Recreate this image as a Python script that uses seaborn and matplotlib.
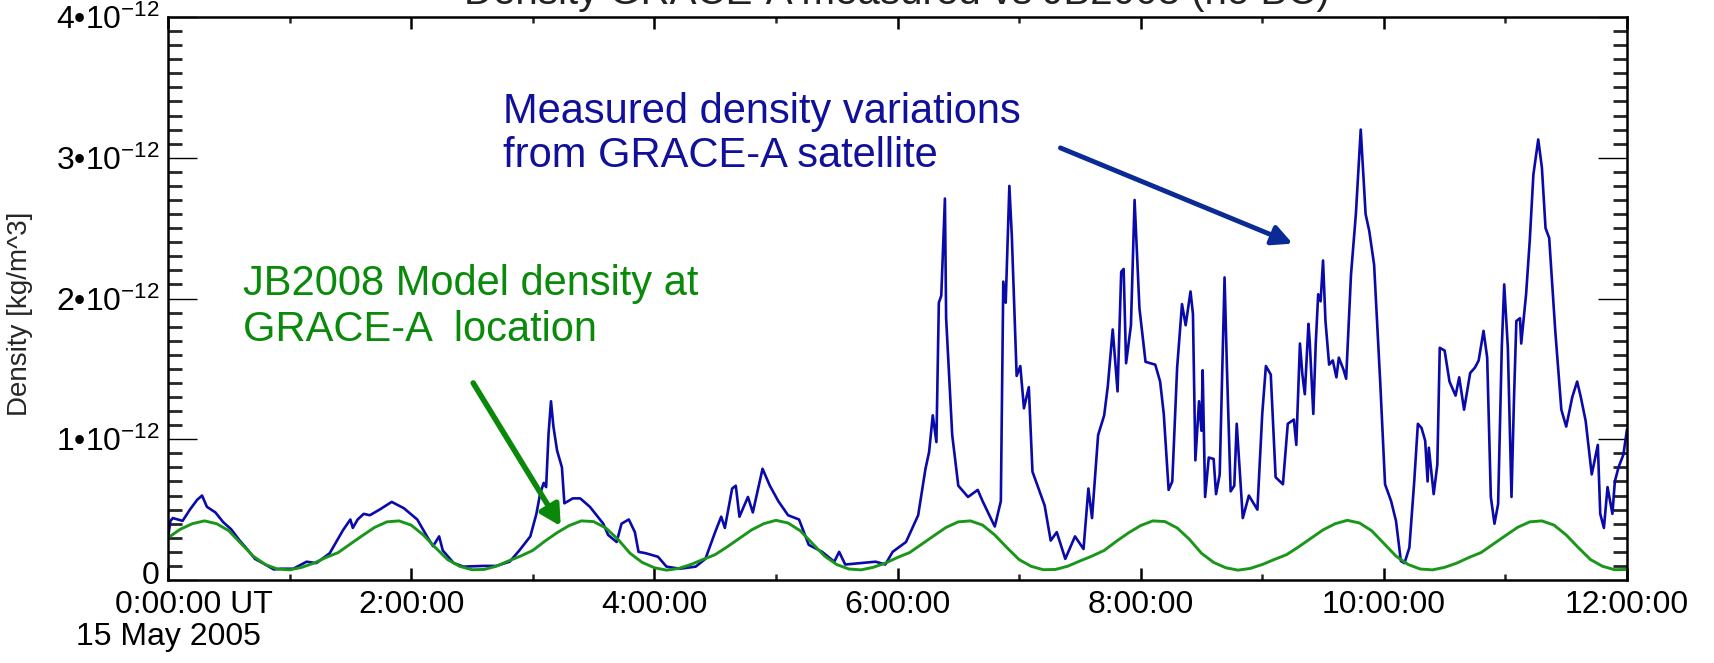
import numpy as np
import pandas as pd
import matplotlib
matplotlib.use("Agg")
import matplotlib.pyplot as plt
import matplotlib.transforms as mtransforms
from matplotlib.ticker import FixedLocator, MultipleLocator
import seaborn as sns

# ---------------- data (density in units of 1e-12 kg/m^3, time in hours UT) ----------------
measured_hours = [
    0.00, 0.02, 0.04, 0.08, 0.12, 0.18, 0.24, 0.28, 0.32, 0.39, 0.455, 0.52, 0.59, 0.66, 0.715,
    0.78, 0.87, 0.93, 1.03, 1.085, 1.14, 1.22, 1.33, 1.44, 1.50, 1.52, 1.56, 1.61, 1.66, 1.74,
    1.84, 1.94, 2.05, 2.13, 2.18, 2.23, 2.26, 2.35, 2.43, 2.59, 2.70, 2.81, 2.89, 2.98, 3.03,
    3.06, 3.09, 3.11, 3.13, 3.15, 3.17, 3.20, 3.24, 3.26, 3.33, 3.39, 3.47, 3.58, 3.62, 3.69,
    3.73, 3.79, 3.84, 3.87, 3.93, 4.03, 4.10, 4.21, 4.34, 4.42, 4.50, 4.55, 4.58, 4.64, 4.67,
    4.70, 4.77, 4.81, 4.89, 4.95, 5.02, 5.10, 5.19, 5.27, 5.38, 5.48, 5.52, 5.57, 5.70, 5.82,
    5.90, 5.96, 6.07, 6.17, 6.23, 6.26, 6.29, 6.32, 6.34, 6.36, 6.39, 6.40, 6.45, 6.50, 6.58,
    6.66, 6.70, 6.80, 6.85, 6.87, 6.89, 6.92, 6.94, 6.98, 7.01, 7.04, 7.08, 7.11, 7.21, 7.26,
    7.31, 7.38, 7.46, 7.53, 7.57, 7.60, 7.65, 7.70, 7.73, 7.77, 7.81, 7.84, 7.86, 7.88, 7.92,
    7.95, 7.99, 8.04, 8.12, 8.16, 8.19, 8.23, 8.26, 8.30, 8.34, 8.37, 8.41, 8.43, 8.45, 8.48,
    8.50, 8.51, 8.53, 8.56, 8.60, 8.62, 8.65, 8.69, 8.71, 8.74, 8.77, 8.79, 8.84, 8.89, 8.96,
    9.00, 9.03, 9.07, 9.11, 9.17, 9.21, 9.26, 9.28, 9.31, 9.33, 9.35, 9.38, 9.39, 9.42, 9.44,
    9.46, 9.48, 9.50, 9.52, 9.55, 9.58, 9.61, 9.63, 9.67, 9.69, 9.73, 9.77, 9.81, 9.85, 9.88,
    9.92, 9.97, 10.01, 10.06, 10.10, 10.14, 10.17, 10.21, 10.25, 10.28, 10.31, 10.34, 10.36, 10.37, 10.41,
    10.44, 10.46, 10.50, 10.54, 10.59, 10.62, 10.66, 10.71, 10.75, 10.78, 10.82, 10.85, 10.88, 10.91, 10.94,
    10.97, 10.99, 11.02, 11.05, 11.07, 11.09, 11.12, 11.13, 11.17, 11.20, 11.23, 11.27, 11.30, 11.33, 11.36,
    11.41, 11.46, 11.50, 11.55, 11.59, 11.62, 11.66, 11.71, 11.76, 11.78, 11.81, 11.84, 11.88, 11.90, 11.93,
    11.97, 12.00,
]
measured_density = [
    0.30, 0.42, 0.44, 0.43, 0.42, 0.50, 0.57, 0.60, 0.52, 0.48, 0.41, 0.36, 0.28, 0.21, 0.15,
    0.12, 0.075, 0.08, 0.08, 0.105, 0.13, 0.12, 0.19, 0.355, 0.43, 0.37, 0.43, 0.47, 0.46, 0.50,
    0.555, 0.51, 0.43, 0.31, 0.24, 0.31, 0.21, 0.12, 0.095, 0.10, 0.10, 0.13, 0.21, 0.31, 0.47,
    0.61, 0.69, 0.66, 1.04, 1.27, 1.09, 0.92, 0.80, 0.545, 0.58, 0.58, 0.52, 0.40, 0.32, 0.27,
    0.40, 0.43, 0.34, 0.20, 0.19, 0.165, 0.095, 0.08, 0.095, 0.15, 0.34, 0.45, 0.37, 0.65, 0.67,
    0.45, 0.59, 0.48, 0.79, 0.67, 0.56, 0.46, 0.43, 0.25, 0.20, 0.13, 0.20, 0.11, 0.12, 0.13,
    0.11, 0.20, 0.27, 0.46, 0.79, 0.91, 1.17, 0.98, 1.97, 2.02, 2.71, 1.86, 1.03, 0.67, 0.59,
    0.64, 0.56, 0.38, 0.56, 2.12, 1.97, 2.80, 2.45, 1.45, 1.52, 1.22, 1.37, 0.77, 0.53, 0.28,
    0.34, 0.15, 0.31, 0.22, 0.65, 0.44, 1.03, 1.17, 1.38, 1.78, 1.34, 2.19, 2.21, 1.54, 1.81,
    2.70, 1.93, 1.55, 1.53, 1.41, 1.18, 0.64, 0.70, 1.51, 1.96, 1.81, 2.05, 1.89, 0.85, 1.27,
    1.06, 1.49, 0.59, 0.87, 0.86, 0.61, 0.75, 2.15, 1.49, 0.63, 0.67, 1.11, 0.44, 0.60, 0.50,
    1.18, 1.52, 1.46, 0.73, 0.68, 1.11, 1.14, 0.96, 1.68, 1.46, 1.32, 1.82, 1.70, 1.18, 1.68,
    2.03, 1.98, 2.27, 1.84, 1.53, 1.56, 1.44, 1.58, 1.49, 1.43, 2.17, 2.60, 3.20, 2.60, 2.48,
    2.24, 1.41, 0.68, 0.56, 0.42, 0.135, 0.12, 0.23, 0.70, 1.11, 1.08, 0.99, 0.70, 0.94, 0.61,
    0.82, 1.65, 1.63, 1.41, 1.31, 1.44, 1.21, 1.47, 1.51, 1.56, 1.77, 1.58, 0.59, 0.40, 0.54,
    1.65, 2.10, 1.65, 0.59, 1.27, 1.84, 1.86, 1.68, 2.03, 2.41, 2.88, 3.13, 2.93, 2.50, 2.43,
    1.77, 1.21, 1.09, 1.30, 1.41, 1.30, 1.13, 0.75, 0.96, 0.47, 0.37, 0.66, 0.47, 0.70, 0.80,
    0.89, 1.07,
]

model_hours = [i / 10 for i in range(121)]
model_density = [
    0.30, 0.36, 0.40, 0.42, 0.40, 0.35, 0.26, 0.17, 0.11, 0.078,
    0.072, 0.09, 0.12, 0.16, 0.195, 0.256, 0.316, 0.374, 0.413, 0.42,
    0.39, 0.32, 0.23, 0.145, 0.097, 0.073, 0.075, 0.098, 0.135, 0.17,
    0.21, 0.276, 0.336, 0.387, 0.42, 0.415, 0.37, 0.29, 0.19, 0.125,
    0.087, 0.07, 0.082, 0.11, 0.146, 0.18, 0.236, 0.296, 0.356, 0.40,
    0.424, 0.405, 0.35, 0.26, 0.17, 0.11, 0.078, 0.072, 0.09, 0.12,
    0.16, 0.195, 0.255, 0.315, 0.374, 0.413, 0.42, 0.39, 0.32, 0.23,
    0.145, 0.097, 0.073, 0.075, 0.098, 0.135, 0.17, 0.21, 0.275, 0.335,
    0.387, 0.42, 0.415, 0.37, 0.29, 0.19, 0.125, 0.087, 0.07, 0.082,
    0.11, 0.146, 0.18, 0.236, 0.296, 0.356, 0.40, 0.424, 0.405, 0.35,
    0.26, 0.17, 0.11, 0.078, 0.072, 0.09, 0.12, 0.16, 0.195, 0.255,
    0.315, 0.374, 0.413, 0.42, 0.39, 0.32, 0.23, 0.145, 0.097, 0.073,
    0.075,
]

xtick_hours = [0, 2, 4, 6, 8, 10, 12]
xtick_labels = ["0:00:00 UT", "2:00:00", "4:00:00", "6:00:00", "8:00:00", "10:00:00", "12:00:00"]
date_label = "15 May 2005"
ytick_values = [0, 1, 2, 3, 4]
ytick_labels = ["0", "1•10$^{-12}$", "2•10$^{-12}$", "3•10$^{-12}$", "4•10$^{-12}$"]
title_text = "Density GRACE-A measured vs JB2008 (no BC)"
ylabel_text = "Density [kg/m^3]"
measured_note = "Measured density variations\nfrom GRACE-A satellite"
model_note = "JB2008 Model density at\nGRACE-A  location"

# ---------------- style ----------------
sns.set_theme(style="white")
plt.rcParams["font.family"] = ["Liberation Sans", "DejaVu Sans"]
plt.rcParams["mathtext.default"] = "regular"
plt.rcParams["mathtext.fontset"] = "custom"
plt.rcParams["mathtext.rm"] = "Liberation Sans"

BLUE_LINE = "#0A0AAA"
BLUE_TEXT = "#10109A"
BLUE_ARROW = "#0A2A96"
GREEN_LINE = "#1A961A"
GREEN_TEXT = "#0A8A0A"
GREEN_ARROW = "#0A880A"

W, H = 1714, 663
fig = plt.figure(figsize=(W / 100, H / 100), dpi=100)
ax = fig.add_axes([168 / W, 1 - 580 / H, (1627 - 168) / W, (580 - 17) / H])

meas = pd.DataFrame({"hours": measured_hours, "density": measured_density})
model = pd.DataFrame({"hours": model_hours, "density": model_density})

sns.lineplot(data=meas, x="hours", y="density", color=BLUE_LINE, lw=1.9, ax=ax,
             estimator=None, sort=False)
sns.lineplot(data=model, x="hours", y="density", color=GREEN_LINE, lw=2.1, ax=ax,
             estimator=None, sort=False)

ax.set_xlim(0, 12)
ax.set_ylim(0, 4)
ax.set_xlabel("")
ax.set_ylabel(ylabel_text, fontsize=20)
ax.yaxis.set_label_coords(-0.0925, 0.472)

for s in ax.spines.values():
    s.set_linewidth(1.8)
    s.set_color("black")
    s.set_visible(True)

ax.xaxis.set_major_locator(FixedLocator(xtick_hours))
ax.set_xticklabels(xtick_labels)
ax.xaxis.set_minor_locator(MultipleLocator(1))
ax.yaxis.set_major_locator(FixedLocator(ytick_values))
ax.set_yticklabels(ytick_labels)
ax.yaxis.set_minor_locator(MultipleLocator(0.1))

ax.tick_params(axis="x", which="major", direction="in", length=8.6, width=1.8,
               top=True, bottom=True, labelsize=23, pad=7, colors="black")
ax.tick_params(axis="x", which="minor", direction="in", length=4.3, width=1.8,
               top=True, bottom=True)
ax.tick_params(axis="y", which="major", direction="in", length=21, width=1.0,
               left=True, right=True, labelsize=23, pad=6, colors="black")
ax.tick_params(axis="y", which="minor", direction="in", length=10, width=2.0,
               left=True, right=True)

# shift first x label so that "0:00:00" is centred on its tick, and lift the "0"
lbl0 = ax.get_xticklabels()[0]
lbl0.set_transform(lbl0.get_transform() + mtransforms.ScaledTranslation(26 / 100, 0, fig.dpi_scale_trans))
ylbl0 = ax.get_yticklabels()[0]
ylbl0.set_transform(ylbl0.get_transform() + mtransforms.ScaledTranslation(0, 8 / 100, fig.dpi_scale_trans))

ax.annotate(date_label, xy=(0, 0), xycoords=("data", "axes fraction"),
            xytext=(0, -41), textcoords="offset points", ha="center", va="center",
            fontsize=23, color="black", annotation_clip=False)

# title, partly cut at the top of the figure
fig.text(897 / W, 1 - 4.5 / H, title_text, ha="center", va="baseline", fontsize=29, color="#222222")

# annotations
ax.text(2.755, 3.17, measured_note, color=BLUE_TEXT, fontsize=30, ha="left", va="center",
        linespacing=1.13)
ax.annotate("", xy=(9.25, 2.39), xytext=(7.34, 3.07),
            arrowprops=dict(arrowstyle="-|>,head_length=1.2,head_width=0.6", lw=3.5,
                            color=BLUE_ARROW, shrinkA=0, shrinkB=0, mutation_scale=10))
ax.text(0.617, 1.94, model_note, color=GREEN_TEXT, fontsize=30, ha="left", va="center",
        linespacing=1.17)
ax.annotate("", xy=(3.23, 0.383), xytext=(2.51, 1.40),
            arrowprops=dict(arrowstyle="-|>,head_length=1.2,head_width=0.65", lw=4,
                            color=GREEN_ARROW, shrinkA=0, shrinkB=0, mutation_scale=10))

fig.savefig("out.png", dpi=100)
